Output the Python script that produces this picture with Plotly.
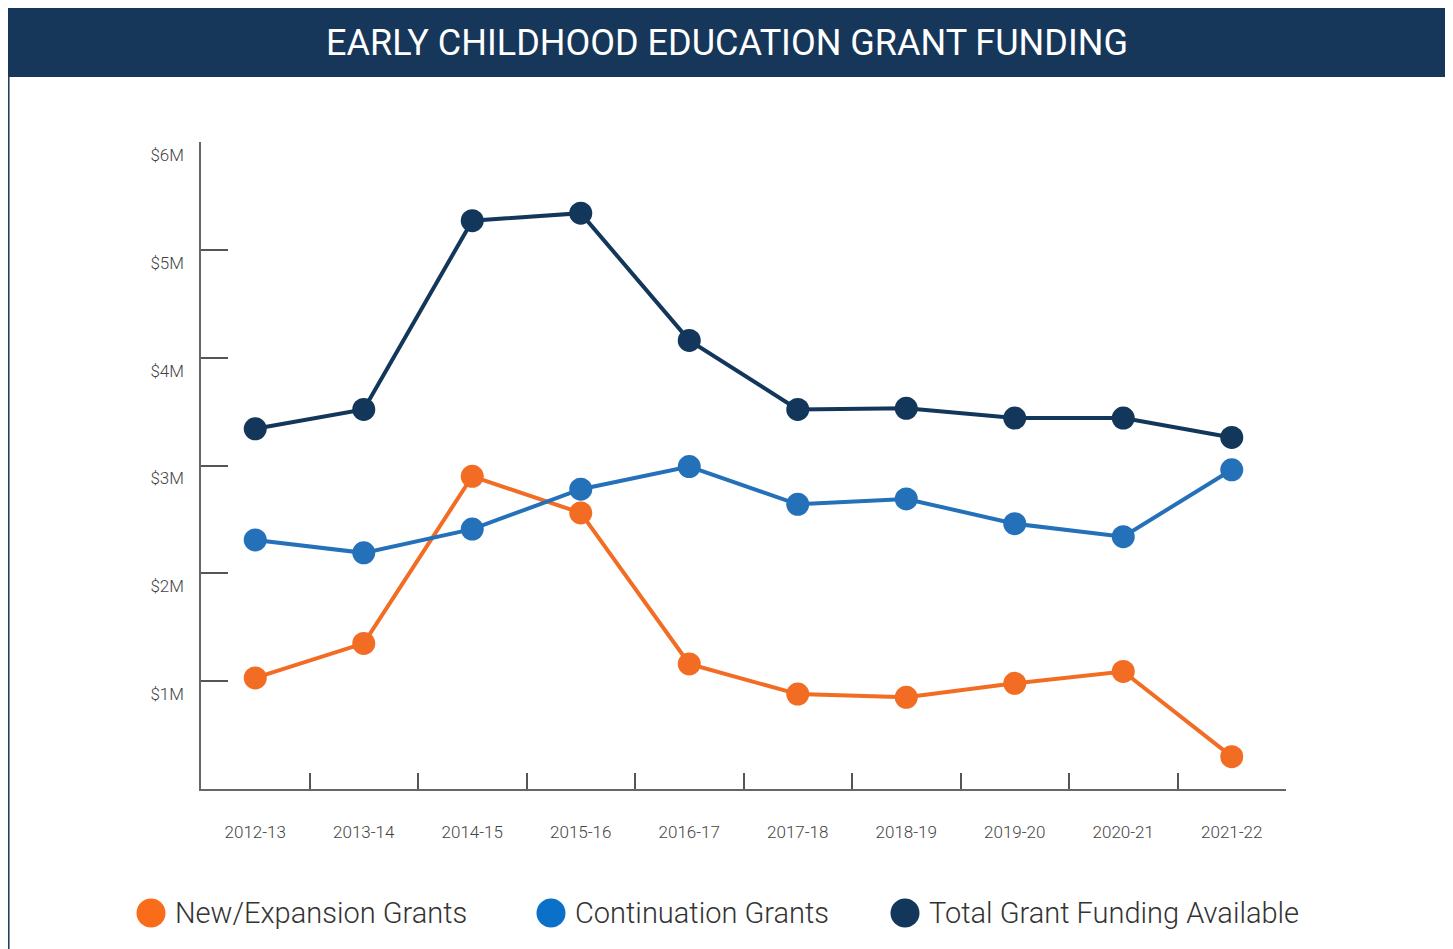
import plotly.graph_objects as go

years = ["2012-13", "2013-14", "2014-15", "2015-16", "2016-17",
         "2017-18", "2018-19", "2019-20", "2020-21", "2021-22"]
new_expansion = [1.03, 1.35, 2.90, 2.56, 1.16, 0.88, 0.85, 0.98, 1.09, 0.30]
continuation = [2.31, 2.19, 2.41, 2.78, 2.99, 2.64, 2.69, 2.46, 2.34, 2.96]
total = [3.34, 3.52, 5.27, 5.34, 4.16, 3.52, 3.53, 3.44, 3.44, 3.26]
y_tickvals = [0, 1, 2, 3, 4, 5, 6]
y_ticktext = ["0", "$1M", "$2M", "$3M", "$4M", "$5M", "$6M"]
series_names = ["New/Expansion Grants", "Continuation Grants", "Total Grant Funding Available"]
line_colors = ["#f26c23", "#2471ba", "#13375b"]
legend_colors = ["#f96c1a", "#0a70c8", "#13375b"]
title_text = "EARLY CHILDHOOD EDUCATION GRANT FUNDING"

# page body has an 8px margin; figure pixel = page pixel - 8
OFF = 8
W, H = 1453 - OFF, 949 - OFF
L, R, T, B = 201 - OFF, 1286 - OFF, 142 - OFF, 789 - OFF
NAVY = "#16365a"


def px(x):
    return (x - OFF - L) / (R - L)


def py(y):
    return (B - (y - OFF)) / (B - T)


fig = go.Figure()
for name, vals, col in zip(series_names, [new_expansion, continuation, total], line_colors):
    fig.add_trace(go.Scatter(
        x=years, y=vals, name=name, mode="lines+markers",
        line=dict(color=col, width=4),
        marker=dict(color=col, size=23),
        cliponaxis=False, showlegend=False,
    ))

# helper trace for the shifted y tick labels axis
fig.add_trace(go.Scatter(x=years, y=[None] * len(years), yaxis="y2", showlegend=False, hoverinfo="skip"))

shift = 13 / (B - T) * 6

fig.update_layout(
    width=W, height=H,
    margin=dict(l=L, r=W - R, t=T, b=H - B),
    paper_bgcolor="white", plot_bgcolor="white",
    font=dict(family="Roboto", color="#444"),
    xaxis=dict(
        type="category", range=[-0.5, 9.5], tickson="boundaries",
        ticks="inside", ticklen=16, tickwidth=1.5, tickcolor="#555",
        showline=True, linecolor="#666", linewidth=1.5,
        showgrid=False, zeroline=False,
        tickfont=dict(size=17, color="#444", weight=300), ticklabelstandoff=27,
    ),
    yaxis=dict(
        range=[0, 6], tickvals=y_tickvals, showticklabels=False,
        ticks="inside", ticklen=27, tickwidth=1.5, tickcolor="#555",
        showline=True, linecolor="#666", linewidth=1.5,
        showgrid=False, zeroline=False,
    ),
    yaxis2=dict(
        overlaying="y", side="left",
        range=[0 + shift, 6 + shift], tickvals=y_tickvals, ticktext=y_ticktext,
        ticks="", showline=False, showgrid=False, zeroline=False,
        tickfont=dict(size=17, color="#444", weight=300), ticklabelstandoff=16,
    ),
    showlegend=False,
)

shapes = [
    dict(type="rect", xref="paper", yref="paper",
         x0=px(7), x1=px(1447), y0=py(77), y1=py(7),
         fillcolor=NAVY, line=dict(width=0), layer="below"),
    dict(type="line", xref="paper", yref="paper",
         x0=px(8.8), x1=px(8.8), y0=py(77), y1=py(960),
         line=dict(color=NAVY, width=1.5)),
    dict(type="line", xref="paper", yref="paper",
         x0=px(1446.5), x1=px(1446.5), y0=py(77), y1=py(960),
         line=dict(color=NAVY, width=1.5)),
]

annotations = [
    dict(text=title_text, xref="paper", yref="paper", x=px(727), y=py(43),
         xanchor="center", yanchor="middle", showarrow=False,
         font=dict(family="Roboto", size=36, color="white", weight=400)),
]

leg_cx = [151, 551, 905]
leg_cy = 913
rad = 14.5
for cx, col, name in zip(leg_cx, legend_colors, series_names):
    shapes.append(dict(type="circle", xref="paper", yref="paper",
                       x0=px(cx - rad), x1=px(cx + rad), y0=py(leg_cy + rad), y1=py(leg_cy - rad),
                       fillcolor=col, line=dict(width=0)))
    annotations.append(dict(text=name, xref="paper", yref="paper",
                            x=px(cx + 22), y=py(leg_cy), xanchor="left", yanchor="middle",
                            showarrow=False,
                            font=dict(family="Roboto", size=29, color="#333", weight=300)))

fig.update_layout(shapes=shapes, annotations=annotations)
fig.write_html("out.html")
